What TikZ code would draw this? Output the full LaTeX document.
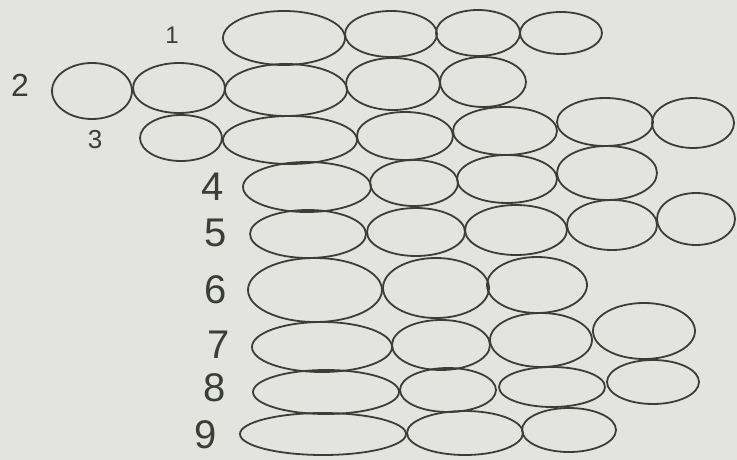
\documentclass[tikz,border=0pt]{standalone}
\usepackage{fontspec}
\setmainfont{Liberation Sans}
\usetikzlibrary{shapes.geometric}
\definecolor{paper}{HTML}{E3E4E0}
\definecolor{ink}{HTML}{3B3E37}
\begin{document}
\begin{tikzpicture}[x=1pt,y=-1pt,
  cell/.style={draw=ink, line width=1.8pt, ellipse, inner sep=0pt},
  lab/.style={text=ink, inner sep=0pt, font=\fontsize{#1}{#1}\selectfont},
  lab/.default=40]
\fill[paper] (0,0) rectangle (737,460);
\useasboundingbox (0,0) rectangle (737,460);
\newcommand\cel[5]{\node[cell, minimum width=#4pt, minimum height=#5pt] (#1) at (#2,#3) {};}
% labels
\node[lab=24] (l1) at (172,35) {1};
\node[lab=32] (l2) at (20,85) {2};
\node[lab=26] (l3) at (95,140) {3};
\node[lab] (l4) at (213,187) {4};
\node[lab] (l5) at (216,233) {5};
\node[lab] (l6) at (216,290) {6};
\node[lab] (l7) at (219,345) {7};
\node[lab] (l8) at (215,388) {8};
\node[lab] (l9) at (206,435) {9};
% row 1
\cel{a1}{284}{38}{122}{54}
\cel{a2}{391}{34}{92}{46}
\cel{a3}{478}{33}{84}{46}
\cel{a4}{561}{33}{82}{42}
% row 2
\cel{b1}{92}{91}{80}{56}
\cel{b2}{179}{88}{92}{50}
\cel{b3}{286}{90}{122}{52}
\cel{b4}{393}{84}{94}{52}
\cel{b5}{483}{82}{86}{50}
% row 3
\cel{c1}{181}{138}{82}{46}
\cel{c2}{290}{140}{134}{48}
\cel{c3}{405}{136}{96}{48}
\cel{c4}{505}{131}{104}{48}
\cel{c5}{605}{122}{96}{48}
\cel{c6}{693}{123}{82}{50}
% row 4
\cel{d1}{307}{187}{128}{50}
\cel{d2}{414}{183}{88}{46}
\cel{d3}{507}{179}{100}{48}
\cel{d4}{607}{173}{100}{54}
% row 5
\cel{e1}{308}{234}{116}{48}
\cel{e2}{416}{232}{98}{48}
\cel{e3}{516}{230}{102}{50}
\cel{e4}{612}{225}{90}{50}
\cel{e5}{696}{219}{78}{52}
% row 6
\cel{f1}{315}{290}{134}{64}
\cel{f2}{436}{288}{106}{60}
\cel{f3}{537}{285}{100}{56}
% row 7
\cel{g1}{322}{347}{140}{50}
\cel{g2}{441}{345}{98}{50}
\cel{g3}{541}{340}{102}{54}
\cel{g4}{644}{331}{102}{56}
% row 8
\cel{h1}{326}{392}{146}{44}
\cel{h2}{448}{390}{96}{44}
\cel{h3}{552}{387}{106}{40}
\cel{h4}{653}{382}{92}{44}
% row 9
\cel{i1}{323}{434}{166}{42}
\cel{i2}{465}{433}{116}{44}
\cel{i3}{569}{430}{94}{44}
\end{tikzpicture}
\end{document}
